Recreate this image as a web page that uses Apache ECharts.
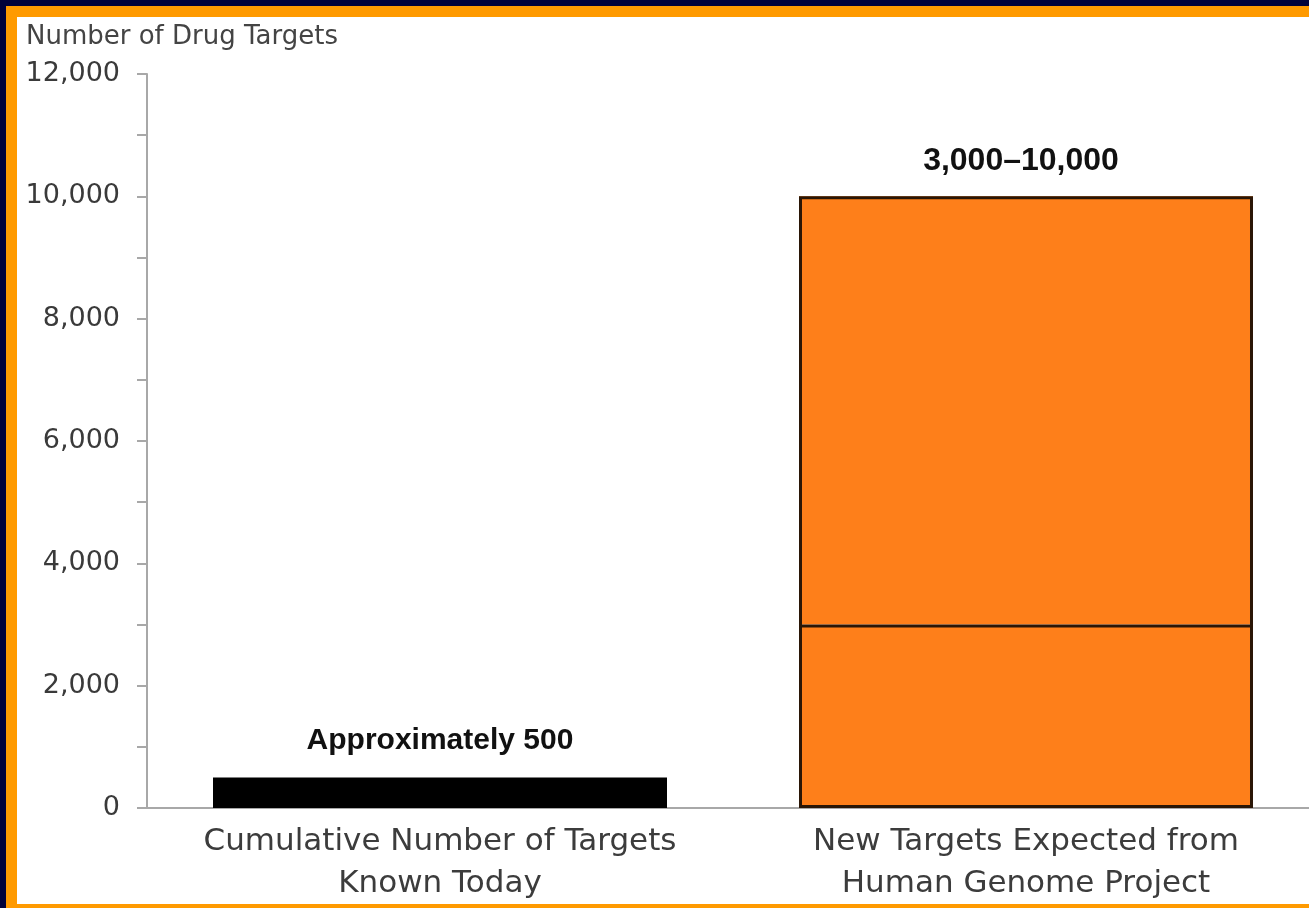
<!DOCTYPE html>
<html lang="en">
<head>
    <meta charset="UTF-8">
    <script src="https://cdn.jsdelivr.net/npm/echarts@6/dist/echarts.min.js"></script>
    <title>Number of Drug Targets</title>
    <style>
        html, body { margin: 0; padding: 0; background: #ffffff; }
        #chart { position: absolute; left: 0; top: 0; width: 1309px; height: 908px; }
        .frame { position: absolute; pointer-events: none; }
    </style>
</head>
<body>

<div id="chart"></div>
<!-- picture frame: navy outer band, orange inner band -->
<div class="frame" style="left:0;top:0;width:1309px;height:6px;background:#01013a"></div>
<div class="frame" style="left:0;top:0;width:6px;height:908px;background:#01013a"></div>
<div class="frame" style="left:6px;top:6px;width:1303px;height:11px;background:#ff9a00"></div>
<div class="frame" style="left:6px;top:6px;width:11px;height:902px;background:#ff9a00"></div>
<div class="frame" style="left:6px;top:904px;width:1303px;height:4px;background:#ff9a00"></div>

<script>
    // data
    const categories = ['Cumulative Number of Targets\nKnown Today', 'New Targets Expected from\nHuman Genome Project'];
    const knownTargets = [500, '-'];
    const expectedLow = ['-', 3000];
    const expectedHigh = ['-', 10000];
    const barLabels = ['Approximately 500', '3,000\u201310,000'];
    const yMin = 0;
    const yMax = 12000;
    const yStep = 2000;

    // upper block of the range bar sits on top of the low estimate
    const expectedRange = expectedHigh.map((v, i) => v === '-' ? '-' : v - expectedLow[i]);

    const chart = echarts.init(document.getElementById('chart'));

    const labelFont = 'DejaVu Sans';
    const boldFont = 'Liberation Sans';
    const barW = 454;
    const edge = '#2a1606';
    const orange = '#fe7f1a';

    const option = {
        animation: false,
        backgroundColor: '#ffffff',
        title: {
            text: 'Number of Drug Targets',
            left: 26,
            top: 22,
            padding: 0,
            textStyle: {
                fontFamily: labelFont,
                fontSize: 26,
                fontWeight: 'normal',
                lineHeight: 30,
                color: '#444444',
            },
        },
        grid: {
            left: 147,
            top: 74,
            width: 1172,
            height: 734,
            outerBoundsMode: 'none',
        },
        xAxis: {
            type: 'category',
            data: categories,
            axisLine: {
                lineStyle: { color: '#a8a8a8', width: 2 },
            },
            axisTick: {
                length: 11,
                lineStyle: { color: '#a8a8a8', width: 2 },
            },
            axisLabel: {
                interval: 0,
                margin: 13,
                fontFamily: labelFont,
                fontSize: 31,
                lineHeight: 42,
                color: '#3c3c3c',
            },
        },
        yAxis: {
            type: 'value',
            min: yMin,
            max: yMax,
            interval: yStep,
            axisLine: {
                show: true,
                lineStyle: { color: '#a8a8a8', width: 2 },
            },
            axisTick: {
                show: true,
                length: 10,
                lineStyle: { color: '#a8a8a8', width: 2 },
            },
            minorTick: {
                show: true,
                splitNumber: 2,
                length: 10,
                lineStyle: { color: '#a8a8a8', width: 2 },
            },
            axisLabel: {
                margin: 27,
                fontFamily: labelFont,
                fontSize: 27,
                color: '#3a3a3a',
                formatter: v => v.toLocaleString('en-US'),
            },
            splitLine: { show: false },
        },
        series: [
            {
                name: 'Known',
                type: 'bar',
                stack: 'targets',
                data: knownTargets,
                barWidth: barW,
                barGap: '-100%',
                itemStyle: { color: '#000000' },
                label: {
                    show: true,
                    position: 'top',
                    distance: 22,
                    formatter: p => barLabels[p.dataIndex],
                    fontFamily: boldFont,
                    fontWeight: 'bold',
                    fontSize: 30,
                    color: '#111111',
                },
            },
            {
                name: 'Expected low',
                type: 'bar',
                stack: 'targets',
                data: expectedLow,
                barWidth: barW,
                z: 3,
                itemStyle: {
                    color: orange,
                    borderColor: edge,
                    borderWidth: 3,
                },
            },
            {
                name: 'Expected range',
                type: 'bar',
                stack: 'targets',
                data: expectedRange,
                barWidth: barW,
                itemStyle: { color: orange },
                label: {
                    show: true,
                    position: 'top',
                    distance: 19,
                    offset: [-5, 0],
                    formatter: p => barLabels[p.dataIndex],
                    fontFamily: boldFont,
                    fontWeight: 'bold',
                    fontSize: 32,
                    color: '#111111',
                },
            },
            {
                // outline of the whole expected range
                name: 'Expected outline',
                type: 'bar',
                data: expectedHigh,
                barWidth: barW,
                barGap: '-100%',
                z: 4,
                itemStyle: {
                    color: 'rgba(0,0,0,0)',
                    borderColor: edge,
                    borderWidth: 3,
                },
            },
        ],
    };

    chart.setOption(option);
</script>

</body>
</html>
